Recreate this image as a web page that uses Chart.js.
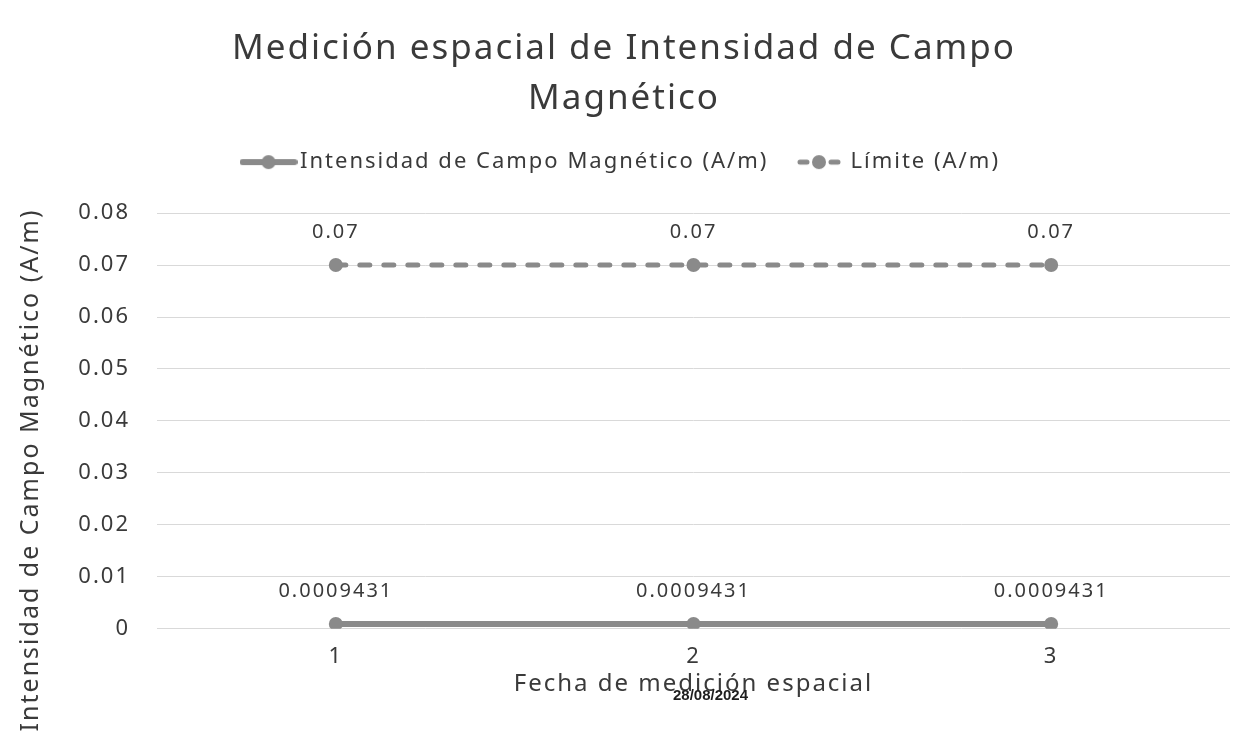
<!DOCTYPE html>
<html>
<head>
<meta charset="utf-8">
<script src="https://cdn.jsdelivr.net/npm/chart.js@4"></script>
<style>
  body { margin: 0; background: #fff; }
  #wrap { width: 1257px; height: 740px; }
</style>
</head>
<body>
<div id="wrap"><canvas id="chart" width="1257" height="740"></canvas></div>
<script>
const categories = ["1", "2", "3"];
const intensidad = [0.0009431, 0.0009431, 0.0009431];
const limite = [0.07, 0.07, 0.07];
const intensidadLabels = ["0.0009431", "0.0009431", "0.0009431"];
const limiteLabels = ["0.07", "0.07", "0.07"];
const fechaMedicion = "28/08/2024";
const yTitle = "Intensidad de Campo Magnético (A/m)";

const gray = "#8a8a8a";
const txt = "#3a3a3a";
const font = "'Noto Sans', sans-serif";
const spacing = "2px";

// legend swatch: line with a dot in the middle
function swatch(dashed) {
  const c = document.createElement("canvas");
  c.width = 58;
  c.height = 16;
  const g = c.getContext("2d");
  g.strokeStyle = gray;
  g.lineCap = "round";
  if (dashed) {
    g.lineWidth = 5;
    g.beginPath();
    g.moveTo(10, 8); g.lineTo(17, 8);
    g.moveTo(41, 8); g.lineTo(48, 8);
    g.stroke();
  } else {
    g.lineWidth = 6;
    g.beginPath();
    g.moveTo(3, 8); g.lineTo(55, 8);
    g.stroke();
  }
  g.fillStyle = gray;
  g.beginPath();
  g.arc(29, 8, 7, 0, Math.PI * 2);
  g.fill();
  return c;
}

const extras = {
  id: "extras",
  beforeInit(chart) {
    // more room between legend and plot
    const fit = chart.legend.fit;
    chart.legend.fit = function () {
      fit.call(this);
      this.height += 30;
    };
  },
  beforeUpdate(chart) {
    chart.ctx.letterSpacing = spacing;
  },
  beforeDraw(chart) {
    chart.ctx.letterSpacing = spacing;
  },
  afterDatasetsDraw(chart) {
    const ctx = chart.ctx;
    const area = chart.chartArea;
    ctx.save();
    ctx.letterSpacing = spacing;
    ctx.font = "20px " + font;
    ctx.fillStyle = txt;
    ctx.textAlign = "center";
    ctx.textBaseline = "middle";
    const sets = [intensidadLabels, limiteLabels];
    chart.data.datasets.forEach((ds, i) => {
      chart.getDatasetMeta(i).data.forEach((pt, j) => {
        ctx.fillText(sets[i][j], pt.x, pt.y - 33);
      });
    });

    // y axis title, centred lower than the plot like the original
    ctx.save();
    ctx.translate(31, 470);
    ctx.rotate(-Math.PI / 2);
    ctx.font = "25px " + font;
    ctx.fillText(yTitle, 0, 0);
    ctx.restore();

    // date stamp over the x axis title
    ctx.letterSpacing = "0px";
    ctx.font = "bold 15px 'Liberation Sans Narrow', 'Liberation Sans', sans-serif";
    ctx.fillStyle = "#1e1e1e";
    ctx.fillText(fechaMedicion, (area.left + area.right) / 2 + 17, area.bottom + 67);
    ctx.restore();
  },
};

new Chart(document.getElementById("chart"), {
  type: "line",
  data: {
    labels: categories,
    datasets: [
      {
        label: "Intensidad de Campo Magnético (A/m)",
        data: intensidad,
        borderColor: gray,
        backgroundColor: gray,
        borderWidth: 6,
        pointRadius: 7,
        pointBackgroundColor: gray,
        pointBorderWidth: 0,
      },
      {
        label: "Límite (A/m)",
        data: limite,
        borderColor: gray,
        backgroundColor: gray,
        borderWidth: 5,
        borderDash: [10, 14],
        borderCapStyle: "round",
        pointRadius: 7,
        pointBackgroundColor: gray,
        pointBorderWidth: 0,
      },
    ],
  },
  options: {
    responsive: false,
    animation: false,
    layout: { padding: { left: 18, right: 27, top: 24, bottom: 10 } },
    plugins: {
      title: {
        display: true,
        text: ["Medición espacial de Intensidad de Campo", "Magnético"],
        color: txt,
        font: { family: font, size: 35, weight: "normal", lineHeight: 1.43 },
        padding: { top: 0, bottom: -3 },
      },
      legend: {
        position: "top",
        labels: {
          usePointStyle: true,
          pointStyleWidth: 41,
          color: txt,
          font: { family: font, size: 22 },
          padding: 30,
          generateLabels(chart) {
            return chart.data.datasets.map((ds, i) => ({
              text: ds.label,
              pointStyle: swatch(i === 1),
              fontColor: txt,
              datasetIndex: i,
              hidden: false,
            }));
          },
        },
      },
      tooltip: { enabled: false },
    },
    scales: {
      x: {
        offset: true,
        grid: { display: false },
        border: { display: false },
        ticks: { color: txt, font: { family: font, size: 22 }, padding: 7 },
        title: {
          display: true,
          text: "Fecha de medición espacial",
          color: txt,
          font: { family: font, size: 24 },
          padding: { top: -7, bottom: 31 },
        },
      },
      y: {
        min: 0,
        max: 0.08,
        afterFit(scale) {
          scale.width = 139;
        },
        ticks: {
          stepSize: 0.01,
          color: txt,
          font: { family: font, size: 22 },
          padding: 27,
        },
        grid: { color: "#d9d9d9", drawTicks: false },
        border: { display: false },
      },
    },
  },
  plugins: [extras],
});
</script>
</body>
</html>
